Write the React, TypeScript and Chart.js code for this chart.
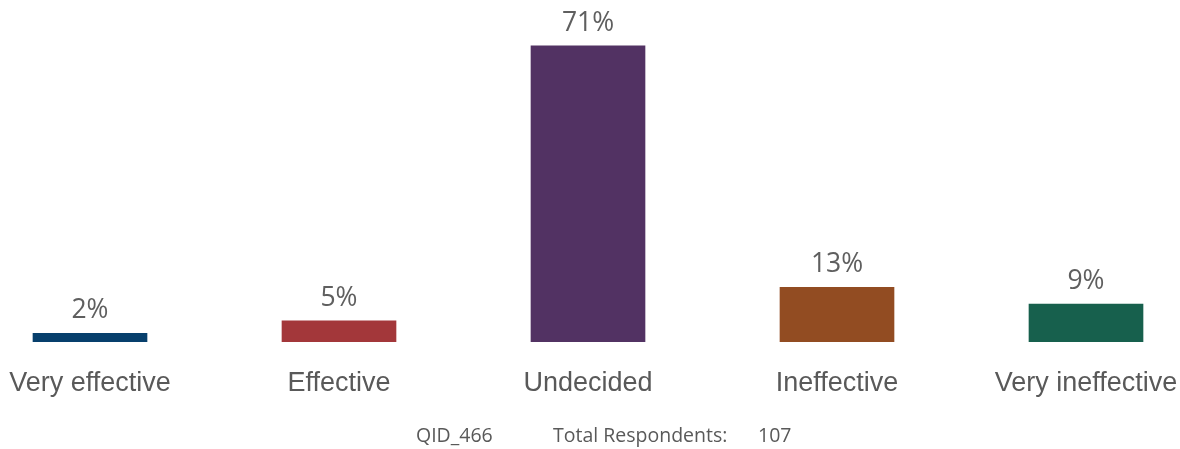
import React, { useEffect, useRef } from "react";
import { Chart, registerables } from "chart.js";

Chart.register(...registerables);

const categories = ["Very effective", "Effective", "Undecided", "Ineffective", "Very ineffective"];
const values = [2, 5, 71, 13, 9];
const barColors = ["#073F6C", "#A3373A", "#523263", "#924C22", "#17604D"];
const footerQid = "QID_466";
const footerLabel = "Total Respondents:";
const footerCount = "107";

const valueLabelPlugin = {
  id: "valueLabels",
  afterDatasetsDraw(chart: any) {
    const ctx = chart.ctx;
    const meta = chart.getDatasetMeta(0);
    ctx.save();
    ctx.font = '26.5px "Open Sans"';
    ctx.fillStyle = "#5F5F5F";
    ctx.textAlign = "center";
    ctx.textBaseline = "alphabetic";
    meta.data.forEach((bar: any, i: number) => {
      ctx.fillText(values[i] + "%", bar.x, bar.y - 15);
    });
    ctx.restore();
  },
};

export default function App() {
  const canvasRef = useRef<HTMLCanvasElement>(null);

  useEffect(() => {
    const chart = new Chart(canvasRef.current!, {
      type: "bar",
      data: {
        labels: categories,
        datasets: [
          {
            data: values,
            backgroundColor: barColors,
            borderWidth: 0,
            barThickness: 114,
            clip: false,
          },
        ],
      },
      options: {
        animation: false,
        responsive: false,
        maintainAspectRatio: false,
        layout: { padding: { left: 90, right: 94, top: 0, bottom: 23 } },
        plugins: {
          legend: { display: false },
          tooltip: { enabled: false },
        },
        scales: {
          x: {
            offset: false,
            grid: { display: false, drawTicks: false },
            border: { display: false },
            afterFit(scale: any) {
              scale.paddingLeft = 0;
              scale.paddingRight = 0;
            },
            ticks: {
              color: "#595959",
              font: { family: '"Liberation Sans", Arial, sans-serif', size: 27 },
              padding: 26,
              maxRotation: 0,
              minRotation: 0,
              autoSkip: false,
            },
          },
          y: {
            display: false,
            min: 0,
            max: 82,
          },
        },
      },
      plugins: [valueLabelPlugin],
    });
    return () => chart.destroy();
  }, []);

  const footStyle: React.CSSProperties = {
    position: "absolute",
    top: 425,
    fontFamily: '"Open Sans", sans-serif',
    fontSize: "19.5px",
    lineHeight: "19px",
    color: "#595959",
    whiteSpace: "nowrap",
  };

  return (
    <div style={{ position: "absolute", left: 0, top: 0, width: 1180, height: 449, background: "#fff" }}>
      <canvas ref={canvasRef} width={1180} height={449} style={{ position: "absolute", left: 0, top: 0 }} />
      <span style={{ ...footStyle, left: 416 }}>{footerQid}</span>
      <span style={{ ...footStyle, left: 553 }}>{footerLabel}</span>
      <span style={{ ...footStyle, left: 758 }}>{footerCount}</span>
    </div>
  );
}
